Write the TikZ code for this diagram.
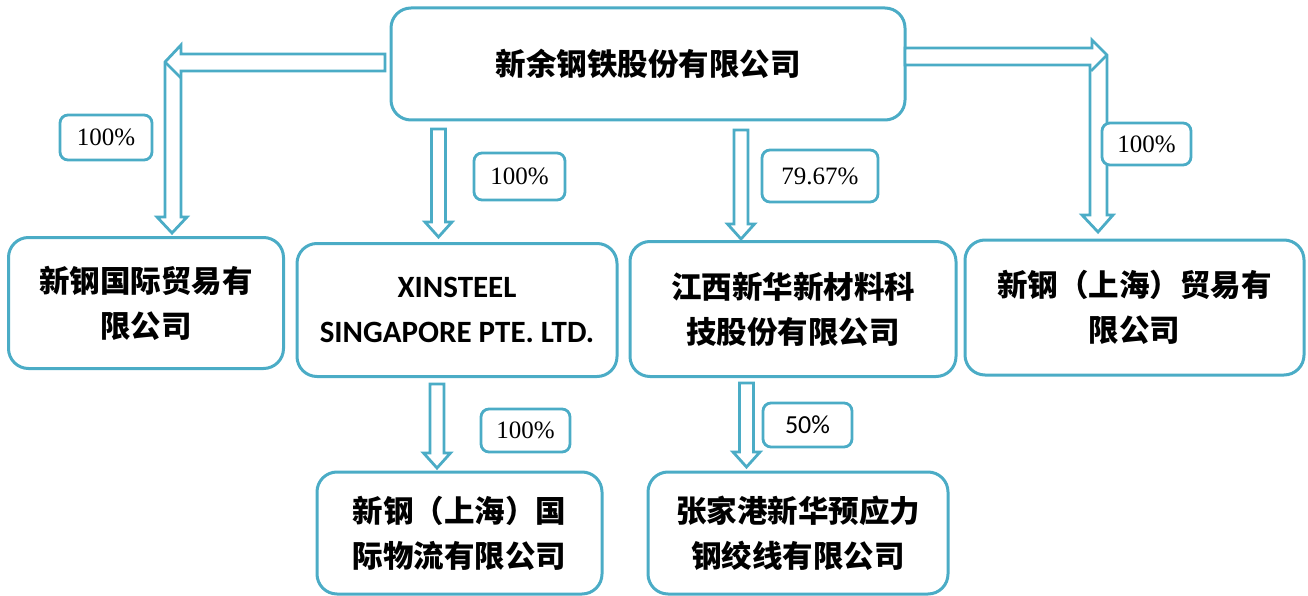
\documentclass[tikz,border=0pt]{standalone}
\usepackage{fontspec}
\usetikzlibrary{calc}
\newfontfamily\cjk{Noto Sans CJK SC}
\newfontfamily\carl{Carlito}
\newfontfamily\tms{Liberation Serif}
\definecolor{lineblue}{RGB}{75,172,198}
\newcommand{\hollowdown}[2]{%
  \draw[arr] let \p1=(#1), \p2=(#2) in
    (\x1-7pt,\y1) -- (\x1+7pt,\y1) -- (\x1+7pt,\y2+15pt) -- (\x1+13.5pt,\y2+15pt)
    -- (\x1,\y2) -- (\x1-13.5pt,\y2+15pt) -- (\x1-7pt,\y2+15pt) -- cycle;}
\begin{document}
\begin{tikzpicture}[x=1pt,y=-1pt,
  box/.style={draw=lineblue, line width=3pt, rounded corners=20pt, inner sep=0pt, align=center,
    font=\cjk\bfseries\fontsize{30.5}{45}\selectfont},
  lbl/.style={draw=lineblue, fill=white, line width=2.8pt, rounded corners=8pt, inner sep=0pt,
    font=\tms\fontsize{25}{25}\selectfont},
  arr/.style={draw=lineblue, line width=2.8pt, line join=miter, fill=white}]
\useasboundingbox (0,0) rectangle (1308,596);

% boxes
\node[box, minimum width=514pt, minimum height=112pt] (top) at (648,64) {新余钢铁股份有限公司};
\node[box, minimum width=275pt, minimum height=131pt] (A) at (146,303) {新钢国际贸易有\\限公司};
\node[box, minimum width=320pt, minimum height=133pt, font=\carl\bfseries\fontsize{31}{45}\selectfont] (B) at (457,310) {XINSTEEL\\SINGAPORE PTE. LTD.};
\node[box, minimum width=326pt, minimum height=135pt] (C) at (793,309) {江西新华新材料科\\技股份有限公司};
\node[box, minimum width=339pt, minimum height=135pt] (D) at (1134.5,307.5) {新钢（上海）贸易有\\限公司};
\node[box, minimum width=285pt, minimum height=122pt] (E) at (459.5,533) {新钢（上海）国\\际物流有限公司};
\node[box, minimum width=300pt, minimum height=122pt] (F) at (798,533) {张家港新华预应力\\钢绞线有限公司};

% connector end points
\coordinate (a1s) at (438.5,129); \coordinate (a1e) at (438.5,237);
\coordinate (a2s) at (741,130);   \coordinate (a2e) at (741,239);
\coordinate (a3s) at (437,384);   \coordinate (a3e) at (437,468);
\coordinate (a4s) at (746.5,383); \coordinate (a4e) at (746.5,467);

% bent arrows
\draw[arr] (385,54)--(181,54)--(181,45)--(165,62)--(165,217)--(157,217)--(172,233)--(187,217)--(181,217)--(181,71)--(385,71)--cycle;
\draw[arr] (165,62)--(181,78);
\draw[arr] (905,48)--(1092,48)--(1092,40)--(1107,55)--(1107,215)--(1113,215)--(1098,232)--(1082,215)--(1090,215)--(1090,65)--(905,65)--cycle;
\draw[arr] (1107,55)--(1091,71);

% straight arrows
\hollowdown{a1s}{a1e}
\hollowdown{a2s}{a2e}
\hollowdown{a3s}{a3e}
\hollowdown{a4s}{a4e}

% labels
\node[lbl, minimum width=92pt, minimum height=45pt] (LA) at (106,137.5) {100\%};
\node[lbl, minimum width=91pt, minimum height=47pt] (LB) at (519.5,176.5) {100\%};
\node[lbl, minimum width=116pt, minimum height=52pt] (LC) at (820,176) {79.67\%};
\node[lbl, minimum width=89pt, minimum height=42pt] (LD) at (1146.5,144) {100\%};
\node[lbl, minimum width=89pt, minimum height=43pt] (LE) at (525.5,430.5) {100\%};
\node[lbl, minimum width=89pt, minimum height=44pt, font=\carl\fontsize{26}{26}\selectfont] (LF) at (807.5,425) {50\%};
\end{tikzpicture}
\end{document}
